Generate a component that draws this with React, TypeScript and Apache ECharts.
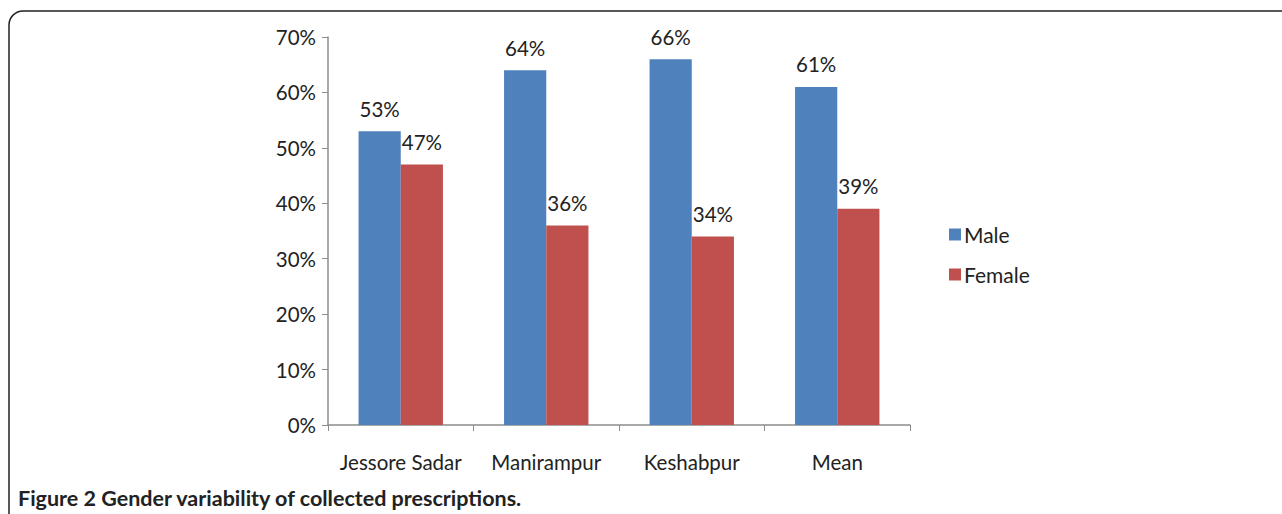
import React, { useEffect, useRef } from "react";
import * as echarts from "echarts";

const categories = ["Jessore Sadar", "Manirampur", "Keshabpur", "Mean"];
const maleValues = [53, 64, 66, 61];
const femaleValues = [47, 36, 34, 39];
const seriesNames = ["Male", "Female"];
const caption = "Figure 2 Gender variability of collected prescriptions.";

const FONT = "Lato, 'Open Sans', sans-serif";

export default function App() {
  const ref = useRef<HTMLDivElement>(null);
  useEffect(() => {
    if (!ref.current) return;
    const chart = echarts.init(ref.current, undefined, { renderer: "svg" });
    const labelStyle = {
      show: true,
      position: "top" as const,
      distance: 12,
      formatter: "{c}%",
      fontSize: 20.5,
      color: "#222",
      fontFamily: FONT,
    };
    chart.setOption({
      animation: false,
      backgroundColor: "#fff",
      textStyle: { fontFamily: FONT },
      grid: { left: 328, top: 37, right: 372, bottom: 89, containLabel: false },
      legend: {
        orient: "vertical",
        left: 944,
        top: 219,
        itemWidth: 12,
        itemHeight: 12,
        itemGap: 19,
        icon: "rect",
        data: seriesNames,
        textStyle: { fontSize: 21, color: "#222", fontFamily: FONT, padding: [0, 0, 0, -2] },
      },
      xAxis: {
        type: "category",
        data: categories,
        axisLine: { lineStyle: { color: "#8c8c8c", width: 1.5 } },
        axisTick: { show: true, alignWithLabel: false, interval: 0, length: 6, lineStyle: { color: "#8c8c8c" } },
        axisLabel: { interval: 0, hideOverlap: false, fontSize: 20.5, color: "#222", margin: 26, fontFamily: FONT },
      },
      yAxis: {
        type: "value",
        min: 0,
        max: 70,
        interval: 10,
        splitLine: { show: false },
        axisLine: { show: true, lineStyle: { color: "#8c8c8c", width: 1.5 } },
        axisTick: { show: true, length: 6, lineStyle: { color: "#8c8c8c" } },
        axisLabel: { formatter: "{value}%", fontSize: 20.5, color: "#222", margin: 12, fontFamily: FONT },
      },
      series: [
        {
          name: seriesNames[0],
          type: "bar",
          data: maleValues,
          barGap: "0%",
          barCategoryGap: "42%",
          itemStyle: { color: "#4F81BD" },
          label: labelStyle,
        },
        {
          name: seriesNames[1],
          type: "bar",
          data: femaleValues,
          barGap: "0%",
          barCategoryGap: "42%",
          itemStyle: { color: "#C0504D" },
          label: labelStyle,
        },
      ],
      graphic: [
        {
          type: "rect",
          shape: { x: 9, y: 11, width: 1300, height: 540, r: 14 },
          style: { fill: "none", stroke: "#222", lineWidth: 1.5 },
          silent: true,
        },
        {
          type: "text",
          x: 18,
          y: 498,
          style: {
            text: caption,
            fontSize: 21.5,
            fontWeight: "bold",
            fill: "#222",
            fontFamily: FONT,
            verticalAlign: "middle",
          },
          silent: true,
        },
      ],
    });
    return () => chart.dispose();
  }, []);
  return (
    <div
      ref={ref}
      style={{ position: "absolute", left: 0, top: 0, width: 1282, height: 514 }}
    />
  );
}
